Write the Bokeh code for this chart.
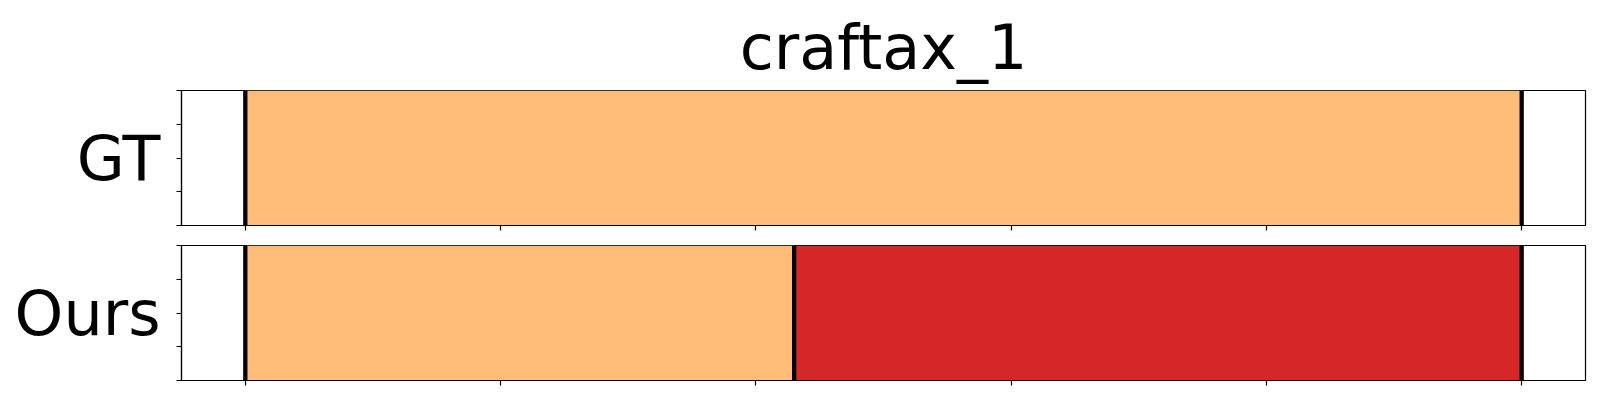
from bokeh.plotting import figure
from bokeh.layouts import column
from bokeh.models import FixedTicker, Range1d, CustomJSTickFormatter
from bokeh.embed import file_html
from bokeh.resources import INLINE

title_text = "craftax_1"
row_names = ["GT", "Ours"]
x_max = 100
x_ticks = [0, 20, 40, 60, 80, 100]
y_ticks = [0, 0.25, 0.5, 0.75, 1.0]

gt_starts = [0]
gt_ends = [100]
gt_colors = ["#ffbb78"]
gt_bounds = [0, 100]

ours_starts = [0, 43]
ours_ends = [43, 100]
ours_colors = ["#ffbb78", "#d62728"]
ours_bounds = [0, 43, 100]

FONT = "DejaVu Sans"


def make(name, starts, ends, colors, bounds, h, top, bottom, title=None):
    pad = 0.05 * x_max
    p = figure(width=1592, height=h, x_range=Range1d(-pad, x_max + pad),
               y_range=Range1d(0, 1), output_backend="svg", toolbar_location=None,
               min_border_left=181, min_border_right=7, min_border_top=top,
               min_border_bottom=bottom, background_fill_color="white",
               border_fill_color="white")
    p.quad(left=starts, right=ends, bottom=0, top=1, fill_color=colors, line_color=None)
    p.segment(x0=bounds, x1=bounds, y0=0, y1=1, line_color="black", line_width=4.3)
    p.xgrid.visible = False
    p.ygrid.visible = False
    p.outline_line_color = "black"
    p.outline_line_width = 1.2
    for ax in (p.xaxis[0], p.yaxis[0]):
        ax.major_tick_in = 0
        ax.major_tick_out = 5
        ax.minor_tick_line_color = None
        ax.major_tick_line_color = "black"
        ax.major_tick_line_width = 1.2
        ax.axis_line_color = "black"
        ax.axis_line_width = 1.2
        ax.formatter = CustomJSTickFormatter(code="return ''")
        ax.major_label_standoff = 0
    p.xaxis.ticker = FixedTicker(ticks=x_ticks)
    p.yaxis.ticker = FixedTicker(ticks=y_ticks)
    p.yaxis.axis_label = name
    p.yaxis.axis_label_orientation = "horizontal"
    p.yaxis.axis_label_text_font = FONT
    p.yaxis.axis_label_text_font_size = "62px"
    p.yaxis.axis_label_text_font_style = "normal"
    p.yaxis.axis_label_text_color = "black"
    p.yaxis.axis_label_standoff = 16
    if title:
        p.title.text = title
        p.title.align = "center"
        p.title.vertical_align = "top"
        p.title.text_font = FONT
        p.title.text_font_size = "62px"
        p.title.text_font_style = "normal"
        p.title.text_color = "black"
        p.title.standoff = 10
    return p


p1 = make(row_names[0], gt_starts, gt_ends, gt_colors, gt_bounds, 235, 90, 10, title=title_text)
p2 = make(row_names[1], ours_starts, ours_ends, ours_colors, ours_bounds, 157, 10, 12)

layout = column(p1, p2, spacing=0)
open("out.html", "w").write(file_html(layout, INLINE))
